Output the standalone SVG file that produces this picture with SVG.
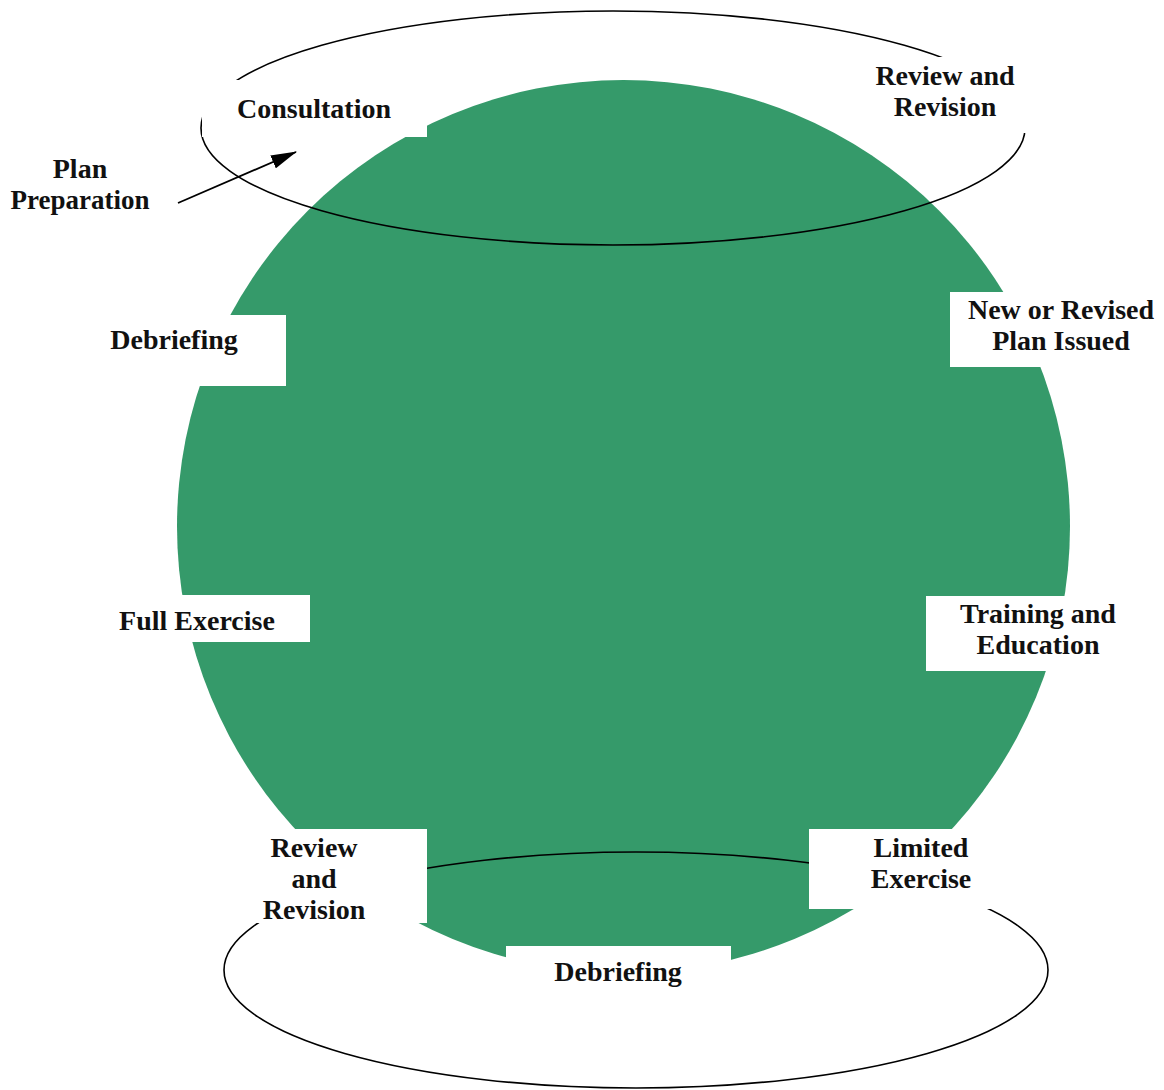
<svg xmlns="http://www.w3.org/2000/svg" width="1164" height="1090" viewBox="0 0 1164 1090">
<defs>
<style>
.lbl{font-family:"Liberation Serif","Times New Roman",serif;font-weight:bold;font-size:28px;fill:#111;text-anchor:middle}
.box{fill:#fff}
.cyc{fill:none;stroke:#000;stroke-width:1.6}
</style>
<marker id="ah" markerWidth="26" markerHeight="14" refX="25" refY="7" orient="auto" markerUnits="userSpaceOnUse">
<path d="M0,0 L26,7 L0,14 Z" fill="#000"/>
</marker>
</defs>
<rect width="1164" height="1090" fill="#fff"/>
<circle id="disc" cx="623.5" cy="526.5" r="446.5" fill="#359a6a"/>
<g id="cycles">
<ellipse class="cyc" cx="613" cy="128" rx="412" ry="117"/>
<ellipse class="cyc" cx="636" cy="970" rx="412" ry="118"/>
</g>
<g id="connectors">
<line x1="178" y1="203" x2="296" y2="152" stroke="#000" stroke-width="1.8" marker-end="url(#ah)"/>
</g>
<g id="consultation"><rect class="box" x="202" y="80" width="225" height="57"/><text class="lbl" x="314" y="118">Consultation</text></g>
<g id="review-top"><rect class="box" x="864" y="57" width="166" height="76"/><text class="lbl" x="945" y="85">Review and</text><text class="lbl" x="945" y="116">Revision</text></g>
<g id="plan-prep"><text class="lbl" x="80" y="178">Plan</text><text class="lbl" x="80" y="209" textLength="139" lengthAdjust="spacingAndGlyphs">Preparation</text></g>
<g id="debriefing-left"><rect class="box" x="62" y="315" width="224" height="71"/><text class="lbl" x="174" y="349">Debriefing</text></g>
<g id="new-plan"><rect class="box" x="950" y="292" width="214" height="75"/><text class="lbl" x="1061" y="319">New or Revised</text><text class="lbl" x="1061" y="350">Plan Issued</text></g>
<g id="full-exercise"><rect class="box" x="84" y="595" width="226" height="47"/><text class="lbl" x="197" y="630">Full Exercise</text></g>
<g id="training"><rect class="box" x="926" y="596" width="224" height="75"/><text class="lbl" x="1038" y="623">Training and</text><text class="lbl" x="1038" y="654">Education</text></g>
<g id="review-bottom"><rect class="box" x="200" y="829" width="227" height="94"/><text class="lbl" x="314" y="857">Review</text><text class="lbl" x="314" y="888">and</text><text class="lbl" x="314" y="919">Revision</text></g>
<g id="limited"><rect class="box" x="809" y="829" width="225" height="80"/><text class="lbl" x="921" y="857">Limited</text><text class="lbl" x="921" y="888">Exercise</text></g>
<g id="debriefing-bottom"><rect class="box" x="506" y="946" width="225" height="52"/><text class="lbl" x="618" y="981">Debriefing</text></g>
</svg>
